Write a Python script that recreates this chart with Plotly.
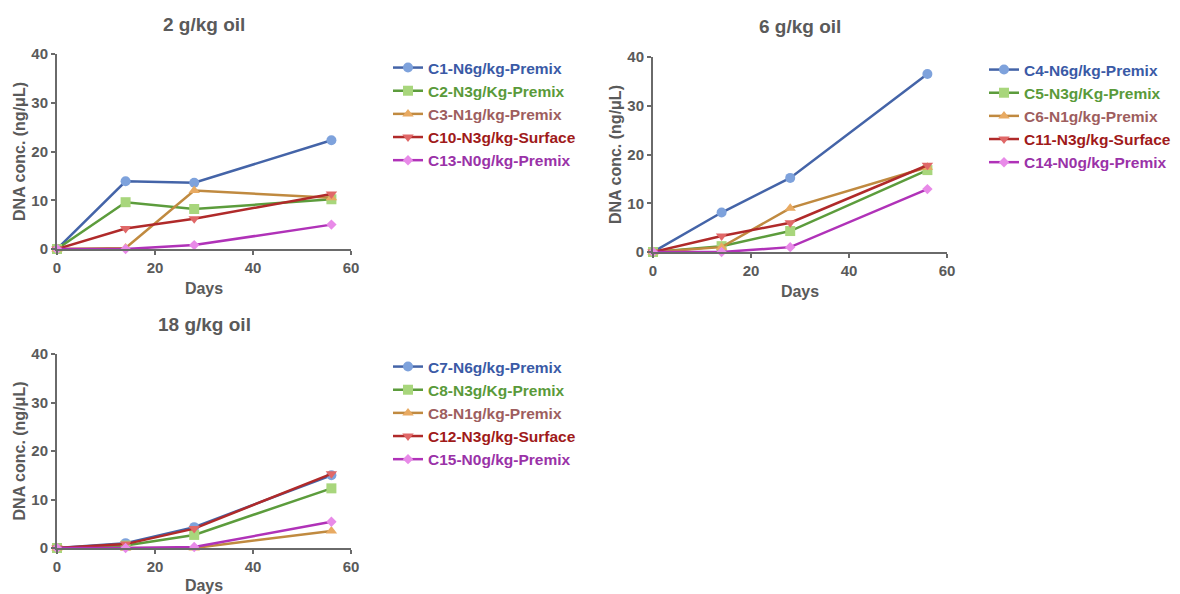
import plotly.graph_objects as go

days = [0, 14, 28, 56]

titles = ["2 g/kg oil", "6 g/kg oil", "18 g/kg oil"]

names_2 = ["C1-N6g/kg-Premix", "C2-N3g/Kg-Premix", "C3-N1g/kg-Premix", "C10-N3g/kg-Surface", "C13-N0g/kg-Premix"]
names_6 = ["C4-N6g/kg-Premix", "C5-N3g/Kg-Premix", "C6-N1g/kg-Premix", "C11-N3g/kg-Surface", "C14-N0g/kg-Premix"]
names_18 = ["C7-N6g/kg-Premix", "C8-N3g/Kg-Premix", "C8-N1g/kg-Premix", "C12-N3g/kg-Surface", "C15-N0g/kg-Premix"]

# panel 2 g/kg
p2_n6 = [0, 13.9, 13.6, 22.3]
p2_n3 = [0, 9.6, 8.2, 10.2]
p2_n1 = [0, 0.2, 12.0, 10.5]
p2_surf = [0, 4.2, 6.2, 11.3]
p2_n0 = [0, 0.0, 0.8, 5.0]

# panel 6 g/kg
p6_n6 = [0, 8.1, 15.2, 36.5]
p6_n3 = [0, 1.2, 4.3, 16.8]
p6_n1 = [0, 1.0, 9.0, 17.4]
p6_surf = [0, 3.3, 6.0, 17.8]
p6_n0 = [0, 0.0, 1.0, 12.9]

# panel 18 g/kg
p18_n6 = [0, 1.0, 4.3, 15.0]
p18_n3 = [0, 0.5, 2.7, 12.3]
p18_n1 = [0, 0.0, 0.0, 3.5]
p18_surf = [0, 0.8, 4.0, 15.3]
p18_n0 = [0, 0.0, 0.2, 5.4]

line_colors = ["#4464a8", "#5c9c3c", "#c08a40", "#b02a2a", "#b032b8"]
marker_colors = ["#7ea2dc", "#a8d67c", "#e8aa62", "#e06868", "#e88ae8"]
text_colors = ["#3a5aa6", "#5a9a3a", "#9e5e5e", "#a01a1a", "#9a32a8"]
symbols = ["circle", "square", "triangle-up", "triangle-down", "diamond"]
msizes = [10, 10, 10, 10, 8]

panels = [
    (names_2, [p2_n6, p2_n3, p2_n1, p2_surf, p2_n0]),
    (names_6, [p6_n6, p6_n3, p6_n1, p6_surf, p6_n0]),
    (names_18, [p18_n6, p18_n3, p18_n1, p18_surf, p18_n0]),
]

FONT = "Liberation Sans, Arial, sans-serif"
GRAY = "#5a5a5a"

fig = go.Figure()
for pi, (names, series) in enumerate(panels):
    ax = "" if pi == 0 else str(pi + 1)
    leg = "legend" if pi == 0 else "legend" + str(pi + 1)
    for si in range(5):
        fig.add_trace(go.Scatter(
            x=days, y=series[si],
            mode="lines+markers",
            name="<b><span style='color:%s'>%s</span></b>" % (text_colors[si], names[si]),
            line=dict(color=line_colors[si], width=2.5),
            marker=dict(symbol=symbols[si], size=msizes[si], color=marker_colors[si]),
            xaxis="x" + ax, yaxis="y" + ax,
            legend=leg, cliponaxis=False,
        ))

W, H = 1180, 594
# pixel boxes: (x0, x1, ytop, ybottom)
boxes = [(57, 351, 54, 249), (653, 947, 57, 252), (57, 351, 354, 548)]

axis_common = dict(
    showline=True, linecolor="#6a6a6a", linewidth=2,
    ticks="outside", ticklen=4, tickwidth=2, tickcolor="#6a6a6a",
    showgrid=False, zeroline=False, automargin=False,
    tickfont=dict(family=FONT, size=15, color=GRAY, weight="bold"),
)

layout = dict(
    width=W, height=H, margin=dict(l=0, r=0, t=0, b=0),
    paper_bgcolor="white", plot_bgcolor="white",
    font=dict(family=FONT, color=GRAY),
    annotations=[],
)

for pi, (x0, x1, yt, yb) in enumerate(boxes):
    ax = "" if pi == 0 else str(pi + 1)
    xd = [x0 / W, x1 / W]
    yd = [1 - yb / H, 1 - yt / H]
    layout["xaxis" + ax] = dict(
        axis_common, domain=xd, range=[0, 60], tickvals=[0, 20, 40, 60],
        anchor="y" + ax,
        title=dict(text="<b>Days</b>", font=dict(family=FONT, size=16, color=GRAY), standoff=8),
    )
    layout["yaxis" + ax] = dict(
        axis_common, domain=yd, range=[0, 40], tickvals=[0, 10, 20, 30, 40],
        anchor="x" + ax,
        title=dict(text="<b>DNA conc. (ng/μL)</b>", font=dict(family=FONT, size=16, color=GRAY), standoff=2),
    )
    layout["annotations"].append(dict(
        text="<b>%s</b>" % titles[pi], xref="paper", yref="paper",
        x=(x0 + x1) / 2 / W, y=1 - (yt - 30) / H, xanchor="center", yanchor="middle",
        showarrow=False, font=dict(family=FONT, size=19, color=GRAY),
    ))

legend_common = dict(
    xanchor="left", yanchor="top", bgcolor="rgba(0,0,0,0)",
    font=dict(family=FONT, size=15.5), itemwidth=30, tracegroupgap=0,
)
layout["legend"] = dict(legend_common, x=388 / W, y=1 - 51 / H)
layout["legend2"] = dict(legend_common, x=984 / W, y=1 - 53 / H)
layout["legend3"] = dict(legend_common, x=388 / W, y=1 - 350 / H)

fig.update_layout(**layout)
fig.write_html(
    "out.html",
    config={"displayModeBar": False},
    post_script="document.body.style.margin='0';document.body.style.padding='0';",
)
